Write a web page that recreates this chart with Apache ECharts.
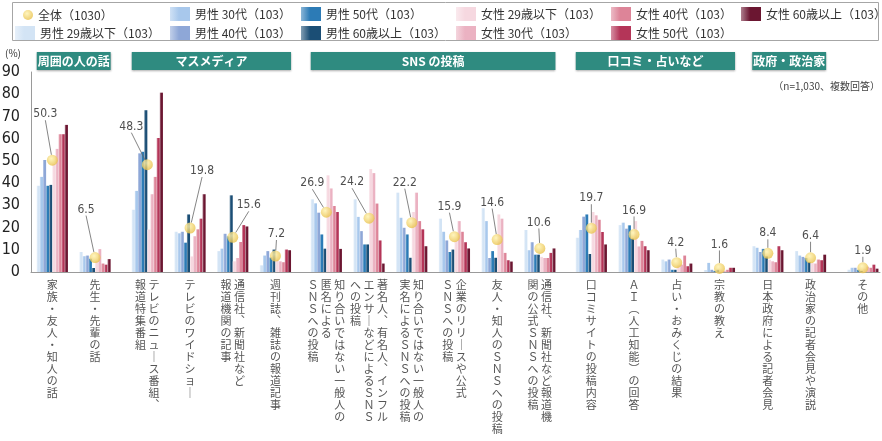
<!DOCTYPE html>
<html>
<head>
<meta charset="utf-8">
<script src="https://cdn.jsdelivr.net/npm/echarts@6/dist/echarts.min.js"></script>
<style>
  html, body { margin: 0; padding: 0; background: #fff; }
  #chart { width: 882px; height: 441px; }
</style>
</head>
<body>
<div id="chart"></div>
<script>
// カテゴリ（\n は縦書きラベルの列の区切り）
const categories = [
  '家族・友人・知人の話',
  '先生・先輩の話',
  'テレビのニュース番組、\n報道特集番組',
  'テレビのワイドショー',
  '通信社、新聞社など\n報道機関の記事',
  '週刊誌、雑誌の報道記事',
  '知り合いではない一般人の\n匿名による\nＳＮＳへの投稿',
  '著名人、有名人、インフル\nエンサーなどによるＳＮＳ\nへの投稿',
  '知り合いではない一般人の\n実名によるＳＮＳへの投稿',
  '企業のリリースや公式\nＳＮＳへの投稿',
  '友人・知人のＳＮＳへの投稿',
  '通信社、新聞社など報道機\n関の公式ＳＮＳへの投稿',
  '口コミサイトの投稿内容',
  'ＡＩ（人工知能）の回答',
  '占い・おみくじの結果',
  '宗教の教え',
  '日本政府による記者会見',
  '政治家の記者会見や演説',
  'その他'
];
const sectionNames = ['周囲の人の話', 'マスメディア', 'SNS の投稿', '口コミ・占いなど', '政府・政治家', ''];
const sectionSizes = [2, 4, 6, 4, 2, 1];

const totalName = '全体（1030）';
const totalValues = [50.3, 6.5, 48.3, 19.8, 15.6, 7.2, 26.9, 24.2, 22.2, 15.9, 14.6, 10.6, 19.7, 16.9, 4.2, 1.6, 8.4, 6.4, 1.9];

const groupNames = [
  '男性 29歳以下（103）', '男性 30代（103）', '男性 40代（103）', '男性 50代（103）', '男性 60歳以上（103）',
  '女性 29歳以下（103）', '女性 30代（103）', '女性 40代（103）', '女性 50代（103）', '女性 60歳以上（103）'
];
const male29 = [38.8, 9.0, 28.0, 18.1, 9.4, 3.0, 32.7, 32.7, 35.7, 24.0, 28.7, 18.9, 15.4, 21.1, 5.6, 0.9, 11.6, 9.4, 1.0];
const male30 = [42.8, 7.1, 36.5, 17.4, 10.5, 7.4, 30.9, 24.8, 24.4, 18.1, 22.9, 9.8, 18.9, 22.2, 4.8, 4.1, 10.9, 7.4, 1.9];
const male40 = [50.4, 7.4, 53.4, 18.1, 17.2, 9.4, 26.7, 18.4, 19.9, 14.2, 6.3, 13.4, 24.9, 19.5, 5.6, 1.0, 9.0, 6.8, 1.9];
const male50 = [38.8, 6.0, 54.1, 13.2, 16.0, 6.5, 16.9, 12.4, 16.9, 9.0, 9.4, 7.8, 25.9, 21.0, 1.0, 0.5, 10.4, 6.3, 1.0];
const male60 = [39.2, 1.8, 72.8, 25.9, 34.5, 10.1, 10.5, 12.4, 6.4, 10.1, 6.4, 7.8, 8.1, 15.0, 1.0, 1.0, 7.0, 4.5, 0.5];
const female29 = [48.5, 5.0, 19.1, 7.0, 4.8, 5.5, 43.5, 46.3, 27.0, 14.0, 25.9, 6.8, 27.0, 22.9, 3.0, 1.0, 5.5, 4.0, 1.5];
const female30 = [55.4, 10.3, 35.0, 16.1, 6.3, 4.8, 37.6, 44.5, 35.7, 22.9, 24.0, 6.3, 25.5, 11.5, 3.3, 0.5, 4.8, 3.8, 2.4];
const female40 = [62.0, 3.8, 42.8, 19.2, 13.5, 4.4, 29.7, 30.8, 22.9, 18.1, 8.6, 6.3, 23.5, 14.0, 7.4, 1.0, 4.4, 5.6, 1.9];
const female50 = [62.0, 3.3, 60.3, 24.0, 21.1, 10.1, 27.0, 14.2, 19.2, 13.4, 5.3, 8.6, 18.0, 11.6, 2.6, 1.9, 11.6, 5.3, 3.3];
const female60 = [66.2, 5.8, 80.7, 35.0, 20.5, 9.8, 10.4, 3.8, 11.6, 10.6, 4.7, 10.6, 12.4, 9.8, 3.8, 1.9, 9.8, 7.8, 1.5];
const groupValues = [male29, male30, male40, male50, male60, female29, female30, female40, female50, female60];

// 見た目
const groupColors = ['#d3e4f5', '#a8c8ec', '#8ea7d7', '#2c7bb6', '#1b4e75', '#f6d8e0', '#ebb2c2', '#dd8498', '#b43558', '#6b1631'];
const labelOffsets = [
  [-7, -46], [-9, -48], [-16, -38], [12, -57], [16, -32], [1, -22],
  [-14, -29], [-17, -36], [-7, -40], [-5, -30], [-5, -37], [-1, -26],
  [0, -30], [0, -24], [-1, -20], [0, -24], [0, -20], [0, -22], [0, -17]
];
const gridTop = 72, gridH = 200, catW = 42.7;
const sectionLeft = [31, 126, 305, 570, 746.5, 841.5];
const numFont = "'Liberation Sans Narrow', 'DejaVu Sans Condensed', 'Liberation Sans', sans-serif";
const jpFont = "'Noto Sans CJK JP', sans-serif";

function mix(hex, t) {
  const n = parseInt(hex.slice(1), 16);
  const c = [(n >> 16) & 255, (n >> 8) & 255, n & 255].map(v => Math.round(v + (255 - v) * t));
  return 'rgb(' + c.join(',') + ')';
}
function barFill(hex) {
  return new echarts.graphic.LinearGradient(0, 0, 1, 0, [
    { offset: 0, color: mix(hex, 0.45) },
    { offset: 0.45, color: hex },
    { offset: 1, color: hex }
  ]);
}
const dotFill = new echarts.graphic.RadialGradient(0.4, 0.35, 0.65, [
  { offset: 0, color: '#fff2ad' },
  { offset: 1, color: '#e9c24c' }
]);

// 縦書き風のラベル（右の列から読む）
const vmap = { 'ー': '｜', '、': '︑', '（': '︵', '）': '︶' };
function verticalLabel(name) {
  const cols = name.split('\n').map(c => Array.from(c).map(ch => vmap[ch] || ch));
  const rows = Math.max(...cols.map(c => c.length));
  const lines = [];
  for (let r = 0; r < rows; r++) {
    const parts = [];
    for (let c = cols.length - 1; c >= 0; c--) parts.push(cols[c][r] || '　');
    lines.push(parts.join(' '));
  }
  return lines.join('\n');
}

const grids = [{ left: 31, right: 2, top: gridTop, height: gridH, outerBoundsMode: 'none' }];
const xAxes = [{
  gridIndex: 0, type: 'category', data: [''],
  axisLine: { lineStyle: { color: '#9a9a9a', width: 1 } },
  axisTick: { show: false }, axisLabel: { show: false }
}];
const yAxes = [{
  gridIndex: 0, type: 'value', min: 0, max: 90, interval: 10,
  axisLine: { show: true, lineStyle: { color: '#9a9a9a' } },
  axisTick: { show: false }, splitLine: { show: false },
  axisLabel: { margin: 11, color: '#222', fontSize: 16, fontFamily: numFont }
}];
const series = [];
const graphics = [];

let start = 0;
sectionSizes.forEach((n, s) => {
  const gi = s + 1;
  const first = start;
  grids.push({ left: sectionLeft[s], width: n * catW, top: gridTop, height: gridH, outerBoundsMode: 'none' });
  xAxes.push({
    gridIndex: gi, type: 'category', data: categories.slice(first, first + n),
    axisLine: { show: false }, axisTick: { show: false },
    axisLabel: {
      interval: 0, margin: 7, formatter: verticalLabel,
      color: '#555', fontSize: 11, lineHeight: 12, fontFamily: jpFont
    }
  });
  yAxes.push({ gridIndex: gi, type: 'value', min: 0, max: 90, show: false });

  groupValues.forEach((vals, k) => {
    series.push({
      name: groupNames[k], type: 'bar', xAxisIndex: gi, yAxisIndex: gi,
      data: vals.slice(first, first + n),
      barGap: '0%', barCategoryGap: '27%',
      itemStyle: { color: barFill(groupColors[k]) },
      emphasis: { disabled: true }
    });
  });
  series.push({
    name: totalName, type: 'scatter', xAxisIndex: gi, yAxisIndex: gi,
    data: totalValues.slice(first, first + n),
    symbolSize: 11, z: 5,
    itemStyle: { color: dotFill },
    label: {
      show: true, position: 'inside', formatter: p => p.value.toFixed(1),
      color: '#222', fontSize: 12, fontFamily: numFont
    },
    labelLayout: p => {
      const o = labelOffsets[first + p.dataIndex];
      return { dx: o[0], dy: o[1] };
    },
    labelLine: { show: true, lineStyle: { color: '#666', width: 0.8 } },
    emphasis: { disabled: true }
  });

  if (sectionNames[s]) {
    const x = sectionLeft[s] + catW * 0.135;
    const w = n * catW - catW * 0.27;
    graphics.push({
      type: 'rect', shape: { x: x, y: 52, width: w, height: 18 },
      style: { fill: '#2f8b80', shadowBlur: 2, shadowOffsetY: 1, shadowColor: 'rgba(0,0,0,0.35)' }
    });
    graphics.push({
      type: 'text', x: x + w / 2, y: 61,
      style: {
        text: sectionNames[s], fill: '#fff', fontSize: 12, fontWeight: 'bold',
        fontFamily: jpFont, align: 'center', verticalAlign: 'middle'
      }
    });
  }
  start += n;
});

graphics.push({
  type: 'rect', shape: { x: 12.5, y: 2.5, width: 866, height: 38 },
  style: { fill: 'none', stroke: '#a6a6a6', lineWidth: 1 }
});
graphics.push({
  type: 'text', left: 5, top: 48,
  style: { text: '(%)', fill: '#333', fontSize: 10, fontFamily: jpFont }
});
graphics.push({
  type: 'text', right: 2, top: 81,
  style: { text: '（n=1,030、複数回答）', fill: '#444', fontSize: 10, fontFamily: jpFont }
});

// 凡例（列ごとに分けて並べる）
const legendCols = [
  [totalName], [groupNames[0]],
  [groupNames[1], groupNames[2]], [groupNames[3], groupNames[4]],
  [groupNames[5], groupNames[6]], [groupNames[7], groupNames[8]],
  [groupNames[9]]
];
const legendPos = [[23, 9], [15, 26], [170, 7], [301, 7], [456, 7], [611, 7], [741, 7]];
const legends = legendCols.map((names, i) => ({
  data: names,
  orient: 'vertical',
  left: legendPos[i][0], top: legendPos[i][1],
  itemGap: 5,
  itemWidth: i === 0 ? 10 : 20,
  itemHeight: i === 0 ? 10 : 14,
  icon: i === 0 ? 'circle' : 'rect',
  padding: 0,
  selectedMode: false,
  textStyle: { color: '#333', fontSize: 12, fontFamily: jpFont }
}));

const myChart = echarts.init(document.getElementById('chart'), null, { renderer: 'canvas' });
const option = {
  animation: false,
  backgroundColor: '#fff',
  textStyle: { fontFamily: jpFont },
  legend: legends,
  grid: grids,
  xAxis: xAxes,
  yAxis: yAxes,
  series: series,
  graphic: graphics
};
option && myChart.setOption(option);
</script>
</body>
</html>
